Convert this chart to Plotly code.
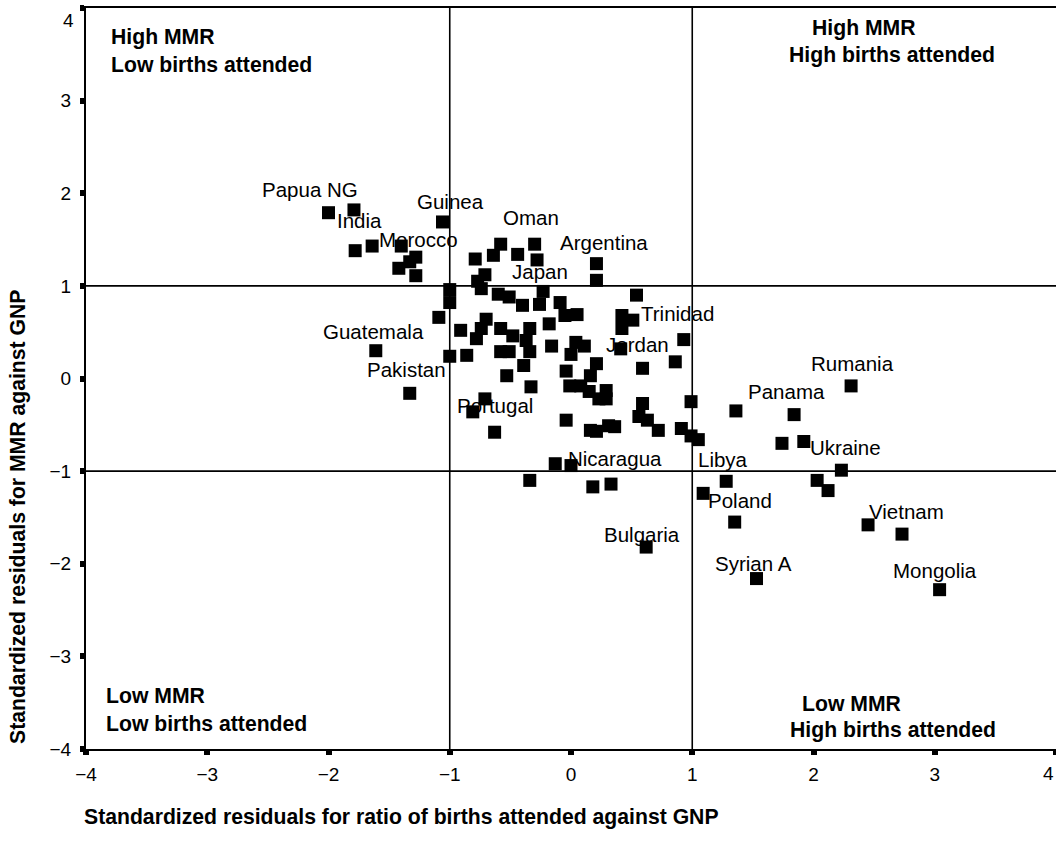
import plotly.graph_objects as go

# Standardized residuals (births attended ratio vs GNP, MMR vs GNP)
x_resid = [-2.00, -1.79, -1.06, -1.78, -1.64, -1.40, -1.28, -1.33, -1.42, -1.28,
           -0.79, -0.64, -0.58, -0.44, -0.30, -0.28, -0.71, -0.77, -0.74, -1.00,
           -1.00, -1.09, -0.60, -0.51, -0.40, -0.26, -0.23, -0.09, -0.05, 0.05,
           0.21, 0.21, 0.54, 0.42, 0.51, 0.42, 0.93, -0.91, -0.70, -0.74,
           -0.78, -0.58, -0.48, -0.34, -0.37, -0.18, -0.16, 0.04, 0.11, -0.58,
           -0.51, -0.34, -0.86, -1.00, 0.00, 0.41, -0.39, -0.53, -0.33, -0.04,
           0.21, 0.16, -0.01, 0.08, 0.15, 0.29, 0.23, 0.29, 0.59, 0.86,
           -0.71, -0.81, -0.63, -0.04, 0.16, 0.21, 0.31, 0.36, 0.59, 0.56,
           0.63, 0.72, 0.99, 0.91, 0.99, 1.05, 1.36, 1.84, 2.31, 1.74,
           1.92, 2.23, 2.03, 2.12, 1.28, 1.09, 1.35, 2.45, 2.73, 1.53,
           3.04, 0.62, -0.13, 0.00, -0.34, 0.18, 0.33, -1.61, -1.33]
y_resid = [1.79, 1.82, 1.69, 1.38, 1.43, 1.43, 1.31, 1.26, 1.19, 1.11,
           1.29, 1.33, 1.45, 1.34, 1.45, 1.28, 1.12, 1.05, 0.97, 0.96,
           0.82, 0.66, 0.91, 0.88, 0.79, 0.80, 0.94, 0.82, 0.68, 0.69,
           1.24, 1.06, 0.90, 0.68, 0.63, 0.54, 0.42, 0.52, 0.64, 0.54,
           0.43, 0.54, 0.46, 0.54, 0.41, 0.59, 0.35, 0.39, 0.35, 0.29,
           0.29, 0.29, 0.25, 0.24, 0.26, 0.32, 0.14, 0.03, -0.09, 0.08,
           0.16, 0.03, -0.08, -0.08, -0.14, -0.13, -0.22, -0.22, 0.11, 0.18,
           -0.22, -0.36, -0.58, -0.45, -0.56, -0.57, -0.51, -0.52, -0.27, -0.41,
           -0.45, -0.56, -0.25, -0.54, -0.62, -0.66, -0.35, -0.39, -0.08, -0.70,
           -0.68, -0.99, -1.10, -1.21, -1.11, -1.24, -1.55, -1.58, -1.68, -2.16,
           -2.28, -1.82, -0.92, -0.94, -1.10, -1.17, -1.14, 0.30, -0.16]
country = [""] * len(x_resid)
named = {0: "Papua NG", 1: "India", 2: "Guinea", 14: "Oman", 5: "Morocco",
         30: "Argentina", 26: "Japan", 36: "Trinidad", 107: "Guatemala",
         108: "Pakistan", 55: "Jordan", 71: "Portugal", 103: "Nicaragua",
         94: "Libya", 95: "Poland", 101: "Bulgaria", 88: "Rumania",
         86: "Panama", 91: "Ukraine", 97: "Vietnam", 99: "Syrian A",
         100: "Mongolia"}
for i, n in named.items():
    country[i] = n

tick_vals = [-4, -3, -2, -1, 0, 1, 2, 3, 4]
tick_text = ["\u22124", "\u22123", "\u22122", "\u22121", "0", "1", "2", "3", "4"]
x_title = "Standardized residuals for ratio of births attended against GNP"
y_title = "Standardized residuals for MMR against GNP"

# label offsets in pixels (dx right, dy down) from the point
label_offsets = {
    "Papua NG": (-19, -23), "India": (6, 11), "Guinea": (8, -20),
    "Oman": (-4, -27), "Morocco": (17, -7), "Argentina": (8, -21),
    "Japan": (-3, -20), "Trinidad": (-6, -26), "Guatemala": (-2, -19),
    "Pakistan": (-3, -24), "Jordan": (17, -4), "Portugal": (22, -6),
    "Nicaragua": (44, -7), "Libya": (-3, -22), "Poland": (37, 7),
    "Bulgaria": (-4, -13), "Rumania": (1, -22), "Panama": (51, -19),
    "Ukraine": (4, -23), "Vietnam": (38, -13), "Syrian A": (-3, -15),
    "Mongolia": (-5, -19),
}

FONT = "Liberation Sans, Arial, Helvetica, sans-serif"
W, H = 1056, 857
ML, MR, MT, MB = 86, 0, 8, 108


def px(xp):
    return (xp - ML) / (W - ML - MR)


def py(yp):
    return (H - MB - yp) / (H - MT - MB)


fig = go.Figure()
fig.add_trace(go.Scatter(
    x=x_resid, y=y_resid, mode="markers",
    marker=dict(symbol="square", size=13, color="black"),
    hoverinfo="skip", showlegend=False, cliponaxis=False,
))

annotations = []
for i, name in enumerate(country):
    if not name:
        continue
    dx, dy = label_offsets[name]
    annotations.append(dict(
        x=x_resid[i], y=y_resid[i], xref="x", yref="y", text=name,
        showarrow=False, xshift=dx, yshift=-dy, xanchor="center", yanchor="middle",
        font=dict(family=FONT, size=20.5, color="black"),
    ))

bold = dict(family=FONT, size=21.2, color="black")
quad = [
    ("<b>High MMR<br>Low births attended</b>", 109, 51, "left"),
    ("<b>High MMR</b>", 864, 28, "center"),
    ("<b>High births attended</b>", 892, 55, "center"),
    ("<b>Low MMR<br>Low births attended</b>", 104, 709, "left"),
    ("<b>Low MMR</b>", 851, 703, "center"),
    ("<b>High births attended</b>", 893, 730, "center"),
]
for text, xp, yp, anc in quad:
    annotations.append(dict(
        x=px(xp), y=py(yp), xref="paper", yref="paper", text=text,
        showarrow=False, xanchor=anc, yanchor="middle", align="left", font=bold,
    ))

annotations.append(dict(
    x=px(401), y=py(817), xref="paper", yref="paper", text="<b>" + x_title + "</b>",
    showarrow=False, xanchor="center", yanchor="middle", font=bold,
))
annotations.append(dict(
    x=px(18), y=py(517), xref="paper", yref="paper", text="<b>" + y_title + "</b>",
    showarrow=False, xanchor="center", yanchor="middle", textangle=-90, font=bold,
))

tickfont = dict(family=FONT, size=19, color="black")
# end-of-axis tick labels that would otherwise fall off the page edge
annotations.append(dict(
    x=0, xref="paper", y=tick_vals[-1], yref="y", text=tick_text[-1],
    showarrow=False, xanchor="right", yanchor="top", xshift=-10, yshift=0,
    font=tickfont,
))
annotations.append(dict(
    x=1, xref="paper", y=0, yref="paper", text=tick_text[-1],
    showarrow=False, xanchor="right", yanchor="top", yshift=-12,
    font=tickfont,
))

shapes = []
for v in (-1, 1):
    shapes.append(dict(type="line", xref="x", yref="paper", x0=v, x1=v, y0=0, y1=1,
                       line=dict(color="black", width=1.6)))
    shapes.append(dict(type="line", xref="paper", yref="y", x0=0, x1=1, y0=v, y1=v,
                       line=dict(color="black", width=1.6)))

axis_common = dict(
    range=[-4, 4], tickvals=tick_vals, ticktext=tick_text[:-1] + [""],
    showgrid=False, zeroline=False,
    showline=True, linecolor="black", linewidth=2,
    ticks="outside", ticklen=4, tickwidth=6, tickcolor="black",
    tickfont=tickfont,
    ticklabeloverflow="allow", automargin=False,
)

fig.update_layout(
    width=W, height=H,
    margin=dict(l=ML, r=MR, t=MT, b=MB, autoexpand=False),
    paper_bgcolor="white", plot_bgcolor="white",
    xaxis=dict(**axis_common, mirror=True, ticklabelstandoff=3),
    yaxis=dict(**axis_common, ticklabelstandoff=5),
    annotations=annotations, shapes=shapes,
    font=dict(family=FONT, color="black"),
)

fig.write_html("out.html")
